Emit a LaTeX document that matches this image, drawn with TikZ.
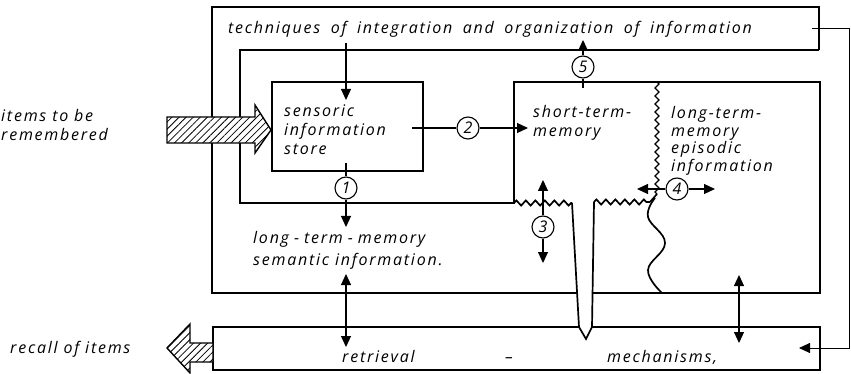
\documentclass[tikz,border=0pt]{standalone}
\usepackage{fontspec}
\setmainfont{Open Sans}[LetterSpace=11]
\usetikzlibrary{arrows.meta,patterns.meta,decorations.pathmorphing,calc}
\begin{document}
\begin{tikzpicture}[x=1pt,y=-1pt,
  frame/.style={line width=1.7pt, line join=miter},
  conn/.style={line width=1.1pt},
  tip/.style={conn, -{Triangle[length=11pt,width=10pt]}},
  both/.style={conn, {Triangle[length=11pt,width=10pt]}-{Triangle[length=11pt,width=10pt]}},
  txt/.style={font=\itshape\fontsize{16}{19}\selectfont, inner sep=0pt, anchor=base west},
  num/.style={circle, draw, line width=1.1pt, minimum size=22pt, inner sep=0pt, fill=white,
              font=\itshape\fontsize{16}{16}\selectfont},
  zzh/.style={decorate, decoration={zigzag, segment length=9.5pt, amplitude=2.6pt}},
  zzv/.style={decorate, decoration={zigzag, segment length=8pt, amplitude=2pt}},
  hatch/.style={line width=1.4pt, preaction={fill=white},
                pattern={Lines[angle=45,distance=5pt,line width=0.8pt]}}
]
\useasboundingbox[fill=white] (0,0) rectangle (851,374);

% outer frame with the band for integration techniques
\draw[frame] (819,50) -- (819,7) -- (212,7) -- (212,293) -- (577,293);
\draw[frame] (819,50) -- (240,50) -- (240,203) -- (514,203) -- (514,82)
             -- (820,82) -- (820,293) -- (592.5,293);

% sensoric information store
\draw[frame] (272,82) rectangle (423,171);

% zigzag borders and the funnel into the retrieval band
\draw[frame, zzh] (514,203) -- (572,203);
\draw[frame] (572,203) -- (579,327) -- (586,339) -- (592,327) -- (594,202);
\draw[frame, zzh] (594,202) -- (650,202);
\draw[frame] (650,202) -- (657,194);
\draw[frame, line width=1.2pt, zzv] (657,82) -- (657,194);
\draw[frame] plot[smooth, tension=0.7] coordinates {(655,198) (648,217) (665,243) (648,270) (662,293)};

% retrieval mechanisms band
\draw[frame] (579,327) -- (213,327) -- (213,370) -- (820,370) -- (820,327) -- (592,327);

% hatched input and output arrows
\draw[hatch] (167,117) -- (255,117) -- (255,105) -- (271,130) -- (255,153) -- (255,143) -- (167,143) -- cycle;
\draw[hatch] (213,343) -- (190,343) -- (190,324) -- (167,348) -- (190,373) -- (190,362) -- (213,362) -- cycle;

% labels (multi-line labels are set from the baseline of their first line)
\node[txt] (tech) at (228,34)
  {\spaceskip=10.5pt\relax techniques of integration and organization of information};
\node[txt] (items) at (1,122) {\vtop{\hbox{items to be}\hbox{remembered}}};
\node[txt] (sis) at (284,117) {\vtop{\hbox{sensoric}\hbox{information}\hbox{store}}};
\node[txt] (stm) at (533,118) {\vtop{\hbox{short-term-}\hbox{memory}}};
\node[txt, font=\itshape\fontsize{16}{17.5}\selectfont] (ltme) at (671,119)
  {\vtop{\hbox{long-term-}\hbox{memory}\hbox{episodic}\hbox{information}}};
\node[txt, font=\itshape\fontsize{16}{22}\selectfont] (ltms) at (253,243)
  {\vtop{\hbox{long\hspace{5pt}-\hspace{5pt}term\hspace{5pt}-\hspace{5pt}memory}\hbox{semantic information.}}};
\node[txt] (recall) at (10,353) {recall of items};
\node[txt] (retr) at (342,362) {retrieval};
\node[txt, anchor=base] (dash) at (509,362) {–};
\node[txt] (mech) at (607,362) {mechanisms,};

% numbered transfer paths
\node[num] (n1) at (346,188) {1};
\node[num] (n2) at (468,128) {2};
\node[num] (n3) at (543,227) {3};
\node[num] (n4) at (677,189) {4};
\node[num] (n5) at (583,67) {5};

\coordinate (a0) at (346,43);  \coordinate (a0t) at (346,100);
\coordinate (s1) at (346,163); \coordinate (t1) at (346,227);
\coordinate (s2) at (412,128); \coordinate (t2) at (528,128);
\coordinate (t3u) at (543,180); \coordinate (t3d) at (543,263);
\coordinate (t4l) at (637,189); \coordinate (t4r) at (715,189);
\coordinate (s5) at (583,88);  \coordinate (t5) at (583,40);
\coordinate (d1a) at (346,274); \coordinate (d1b) at (346,347);
\coordinate (d2a) at (739,275); \coordinate (d2b) at (739,343);
\coordinate (fb0) at (812,28); \coordinate (fbA) at (849,28);
\coordinate (fbB) at (849,348); \coordinate (fb1) at (799,348);

\draw[tip] (a0) -- (a0t);
\draw[conn] (s1) -- (n1); \draw[tip] (n1) -- (t1);
\draw[conn] (s2) -- (n2); \draw[tip] (n2) -- (t2);
\draw[tip] (n3) -- (t3u); \draw[tip] (n3) -- (t3d);
\draw[tip] (n4) -- (t4l); \draw[tip] (n4) -- (t4r);
\draw[conn] (s5) -- (n5); \draw[tip] (n5) -- (t5);
\draw[both] (d1a) -- (d1b);
\draw[both] (d2a) -- (d2b);
\draw[conn, line width=0.9pt, -{Triangle[length=11pt,width=10pt]}] (fb0) -- (fbA) -- (fbB) -- (fb1);
\end{tikzpicture}
\end{document}
